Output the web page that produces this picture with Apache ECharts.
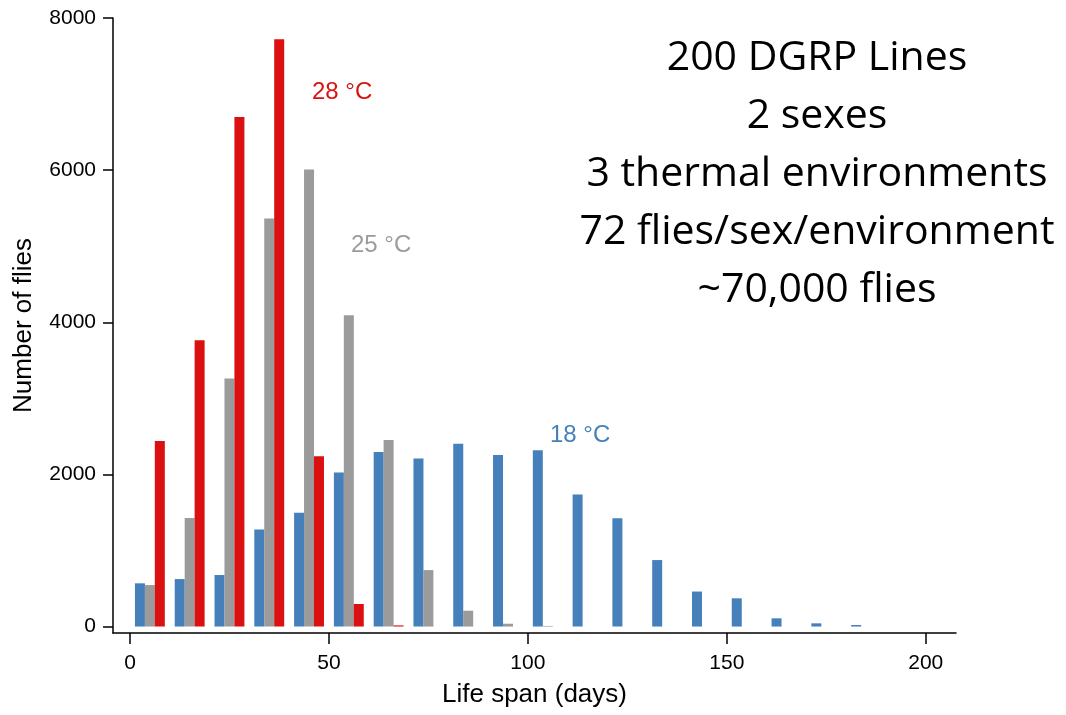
<!DOCTYPE html>
<html>
<head>
<meta charset="utf-8">
<script src="https://cdn.jsdelivr.net/npm/echarts@6/dist/echarts.min.js"></script>
<style>
  html, body { margin: 0; padding: 0; background: #fff; }
  #chart { width: 1066px; height: 715px; }
</style>
</head>
<body>
<div id="chart"></div>
<script>
// bins of 10 days, start of each bin
const binStarts = [0, 10, 20, 30, 40, 50, 60, 70, 80, 90, 100, 110, 120, 130, 140, 150, 160, 170, 180];
// number of flies per bin
const flies18 = [568, 624, 677, 1277, 1495, 2026, 2293, 2210, 2402, 2254, 2319, 1737, 1422, 874, 460, 371, 108, 42, 20];
const flies25 = [545, 1426, 3262, 5364, 6008, 4093, 2451, 742, 208, 37, 8, 0, 0, 0, 0, 0, 0, 0, 0];
const flies28 = [2438, 3765, 6699, 7720, 2240, 296, 15, 0, 0, 0, 0, 0, 0, 0, 0, 0, 0, 0, 0];
const xTicks = [0, 50, 100, 150, 200];
const yTicks = [0, 2000, 4000, 6000, 8000];
const infoLines = ['200 DGRP Lines', '2 sexes', '3 thermal environments', '72 flies/sex/environment', '~70,000 flies'];

const BLUE = '#4580bb';
const GREY = '#9b9b9b';
const RED = '#db1111';
const FONT = 'Liberation Sans';

// each series sits at its own offset inside the 10-day bin
const toPairs = (vals, offset) => vals.map((v, i) => [binStarts[i] + offset, v]);

const chart = echarts.init(document.getElementById('chart'));

const infoText = infoLines.map((t, i) => ({
  type: 'text',
  x: 817,
  y: 38 + i * 58,
  style: { text: t, textAlign: 'center', font: '41px "Open Sans"', fill: '#000' }
}));

const tempLabel = (text, x, y, color) => ({
  type: 'text', x: x, y: y,
  style: { text: text, font: '24px "Liberation Sans"', fill: color }
});

const axisCommon = {
  nameLocation: 'middle',
  nameTextStyle: { fontFamily: FONT, fontSize: 26, color: '#000' },
  axisLine: { show: true, onZero: false, lineStyle: { color: '#000', width: 1.5 } },
  splitLine: { show: false }
};

chart.setOption({
  animation: false,
  grid: { left: 113, right: 110, top: 18, bottom: 82 },
  xAxis: Object.assign({}, axisCommon, {
    type: 'value',
    min: -4.27,
    max: 207.6,
    name: 'Life span (days)',
    nameGap: 49,
    axisTick: { show: true, customValues: xTicks, length: 11, lineStyle: { color: '#000', width: 1.5 } },
    axisLabel: { customValues: xTicks, margin: 20, fontFamily: FONT, fontSize: 21, color: '#000',
      formatter: v => String(v) }
  }),
  yAxis: Object.assign({}, axisCommon, {
    type: 'value',
    min: -85,
    max: 8000,
    name: 'Number of flies',
    nameGap: 76,
    axisTick: { show: true, customValues: yTicks, length: 10, lineStyle: { color: '#000', width: 1.5 } },
    axisLabel: { customValues: yTicks, margin: 17, fontFamily: FONT, fontSize: 21, color: '#000',
      formatter: v => String(v) }
  }),
  series: [
    { name: '18 °C', type: 'bar', data: toPairs(flies18, 2.5), barWidth: 10, barGap: '-100%',
      itemStyle: { color: BLUE } },
    { name: '25 °C', type: 'bar', data: toPairs(flies25, 5), barWidth: 10, barGap: '-100%',
      itemStyle: { color: GREY } },
    { name: '28 °C', type: 'bar', data: toPairs(flies28, 7.5), barWidth: 10, barGap: '-100%',
      itemStyle: { color: RED } }
  ],
  graphic: infoText.concat([
    tempLabel('28 °C', 312, 80, RED),
    tempLabel('25 °C', 351, 233, GREY),
    tempLabel('18 °C', 550, 423, BLUE)
  ])
});
</script>
</body>
</html>
